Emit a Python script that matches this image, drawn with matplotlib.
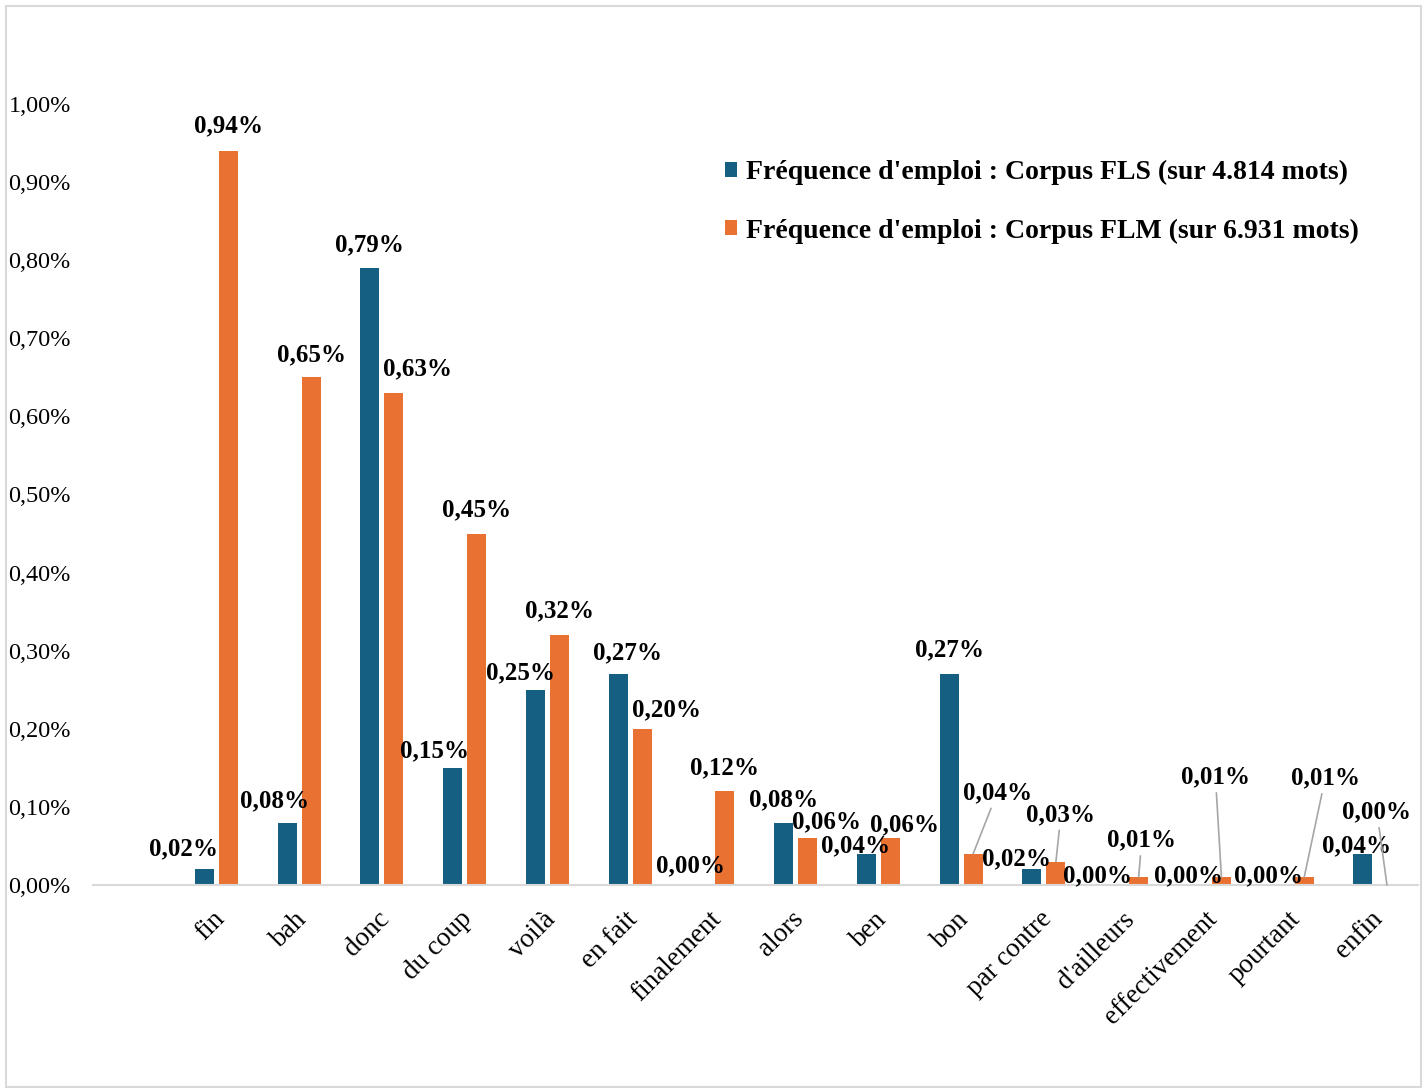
import matplotlib
matplotlib.use("Agg")
import matplotlib.pyplot as plt
import numpy as np
from matplotlib.patches import Rectangle

plt.rcParams['font.family'] = ['Liberation Serif', 'DejaVu Serif']

categories = ["fin", "bah", "donc", "du coup", "voilà", "en fait", "finalement", "alors",
              "ben", "bon", "par contre", "d'ailleurs", "effectivement", "pourtant", "enfin"]
fls = [0.02, 0.08, 0.79, 0.15, 0.25, 0.27, 0.00, 0.08, 0.04, 0.27, 0.02, 0.00, 0.00, 0.00, 0.04]
flm = [0.94, 0.65, 0.63, 0.45, 0.32, 0.20, 0.12, 0.06, 0.06, 0.04, 0.03, 0.01, 0.01, 0.01, 0.00]
label_fls = "Fréquence d'emploi : Corpus FLS (sur 4.814 mots)"
label_flm = "Fréquence d'emploi : Corpus FLM (sur 6.931 mots)"

# label offsets in pixels (dx, dy) from bar top, and whether a leader line is drawn
off_fls = [(-21, 21), (-13, 22), (0, 23), (-18, 17), (-15, 17), (9, 21), (-10, 19), (0, 23),
           (-11, 8), (0, 24), (-15, 11), (-17, 9), (-9, 9), (-12, 9), (-6, 8)]
off_flm = [(0, 25), (0, 23), (24, 24), (0, 24), (0, 24), (24, 19), (0, 23), (19, 16),
           (14, 13), (24, 61), (5, 47), (3, 37), (-6, 100), (21, 99), (-10, 73)]
leader_flm = [False]*9 + [True]*6

c_fls = '#156082'
c_flm = '#E97132'

W, H = 1427, 1090
fig = plt.figure(figsize=(W/100, H/100), dpi=100)
ax = fig.add_axes([93/W, 1-885/H, (1418-93)/W, (885-104)/H])

x = np.arange(len(categories))
bw = 0.23
off = 0.145
ax.bar(x - off, fls, bw, color=c_fls, label=label_fls)
ax.bar(x + off, flm, bw, color=c_flm, label=label_flm)

ax.set_xlim(-1.49, 14.52)
ax.set_ylim(0, 1.0)
ax.set_yticks(np.arange(0, 1.01, 0.1))
ax.set_yticklabels([f"{v:.2f}%".replace('.', ',') for v in np.arange(0, 1.01, 0.1)], fontsize=17.5)
# ticks are invisible; nudge the label anchors slightly right
ax.set_xticks(x + 0.05)
ax.set_xticklabels(categories, rotation=45, ha='right', va='center', rotation_mode='anchor', fontsize=19.5)
ax.tick_params(axis='both', length=0)
ax.tick_params(axis='y', pad=16)
ax.tick_params(axis='x', pad=22)
for s in ['top', 'right', 'left']:
    ax.spines[s].set_visible(False)
ax.spines['bottom'].set_color('#d9d9d9')
ax.spines['bottom'].set_linewidth(1.5)

def lab(xv, v, d, leader):
    txt = f"{v:.2f}%".replace('.', ',')
    kw = {}
    if leader:
        kw['arrowprops'] = dict(arrowstyle='-', color='#a6a6a6', lw=1.2, shrinkA=1, shrinkB=0)
    ax.annotate(txt, (xv, v), xytext=d, textcoords='offset pixels', ha='center', va='center',
                fontsize=18, fontweight='bold', annotation_clip=False, **kw)

for i in range(len(categories)):
    lab(x[i] - off, fls[i], off_fls[i], False)
    lab(x[i] + off, flm[i], off_flm[i], leader_flm[i])

ax.legend(loc='upper left', bbox_to_anchor=(725/W, 1-160/H), bbox_transform=fig.transFigure,
          frameon=False, prop={'size': 20, 'weight': 'bold'}, handlelength=0.45, handleheight=0.45,
          handletextpad=0.3, labelspacing=1.2, borderpad=0, borderaxespad=0)

fig.patches.append(Rectangle((6/W, 3/H), 1-12/W, 1-9/H, transform=fig.transFigure,
                             fill=False, edgecolor='#d9d9d9', lw=1.5))

fig.savefig('out.png', dpi=100)
